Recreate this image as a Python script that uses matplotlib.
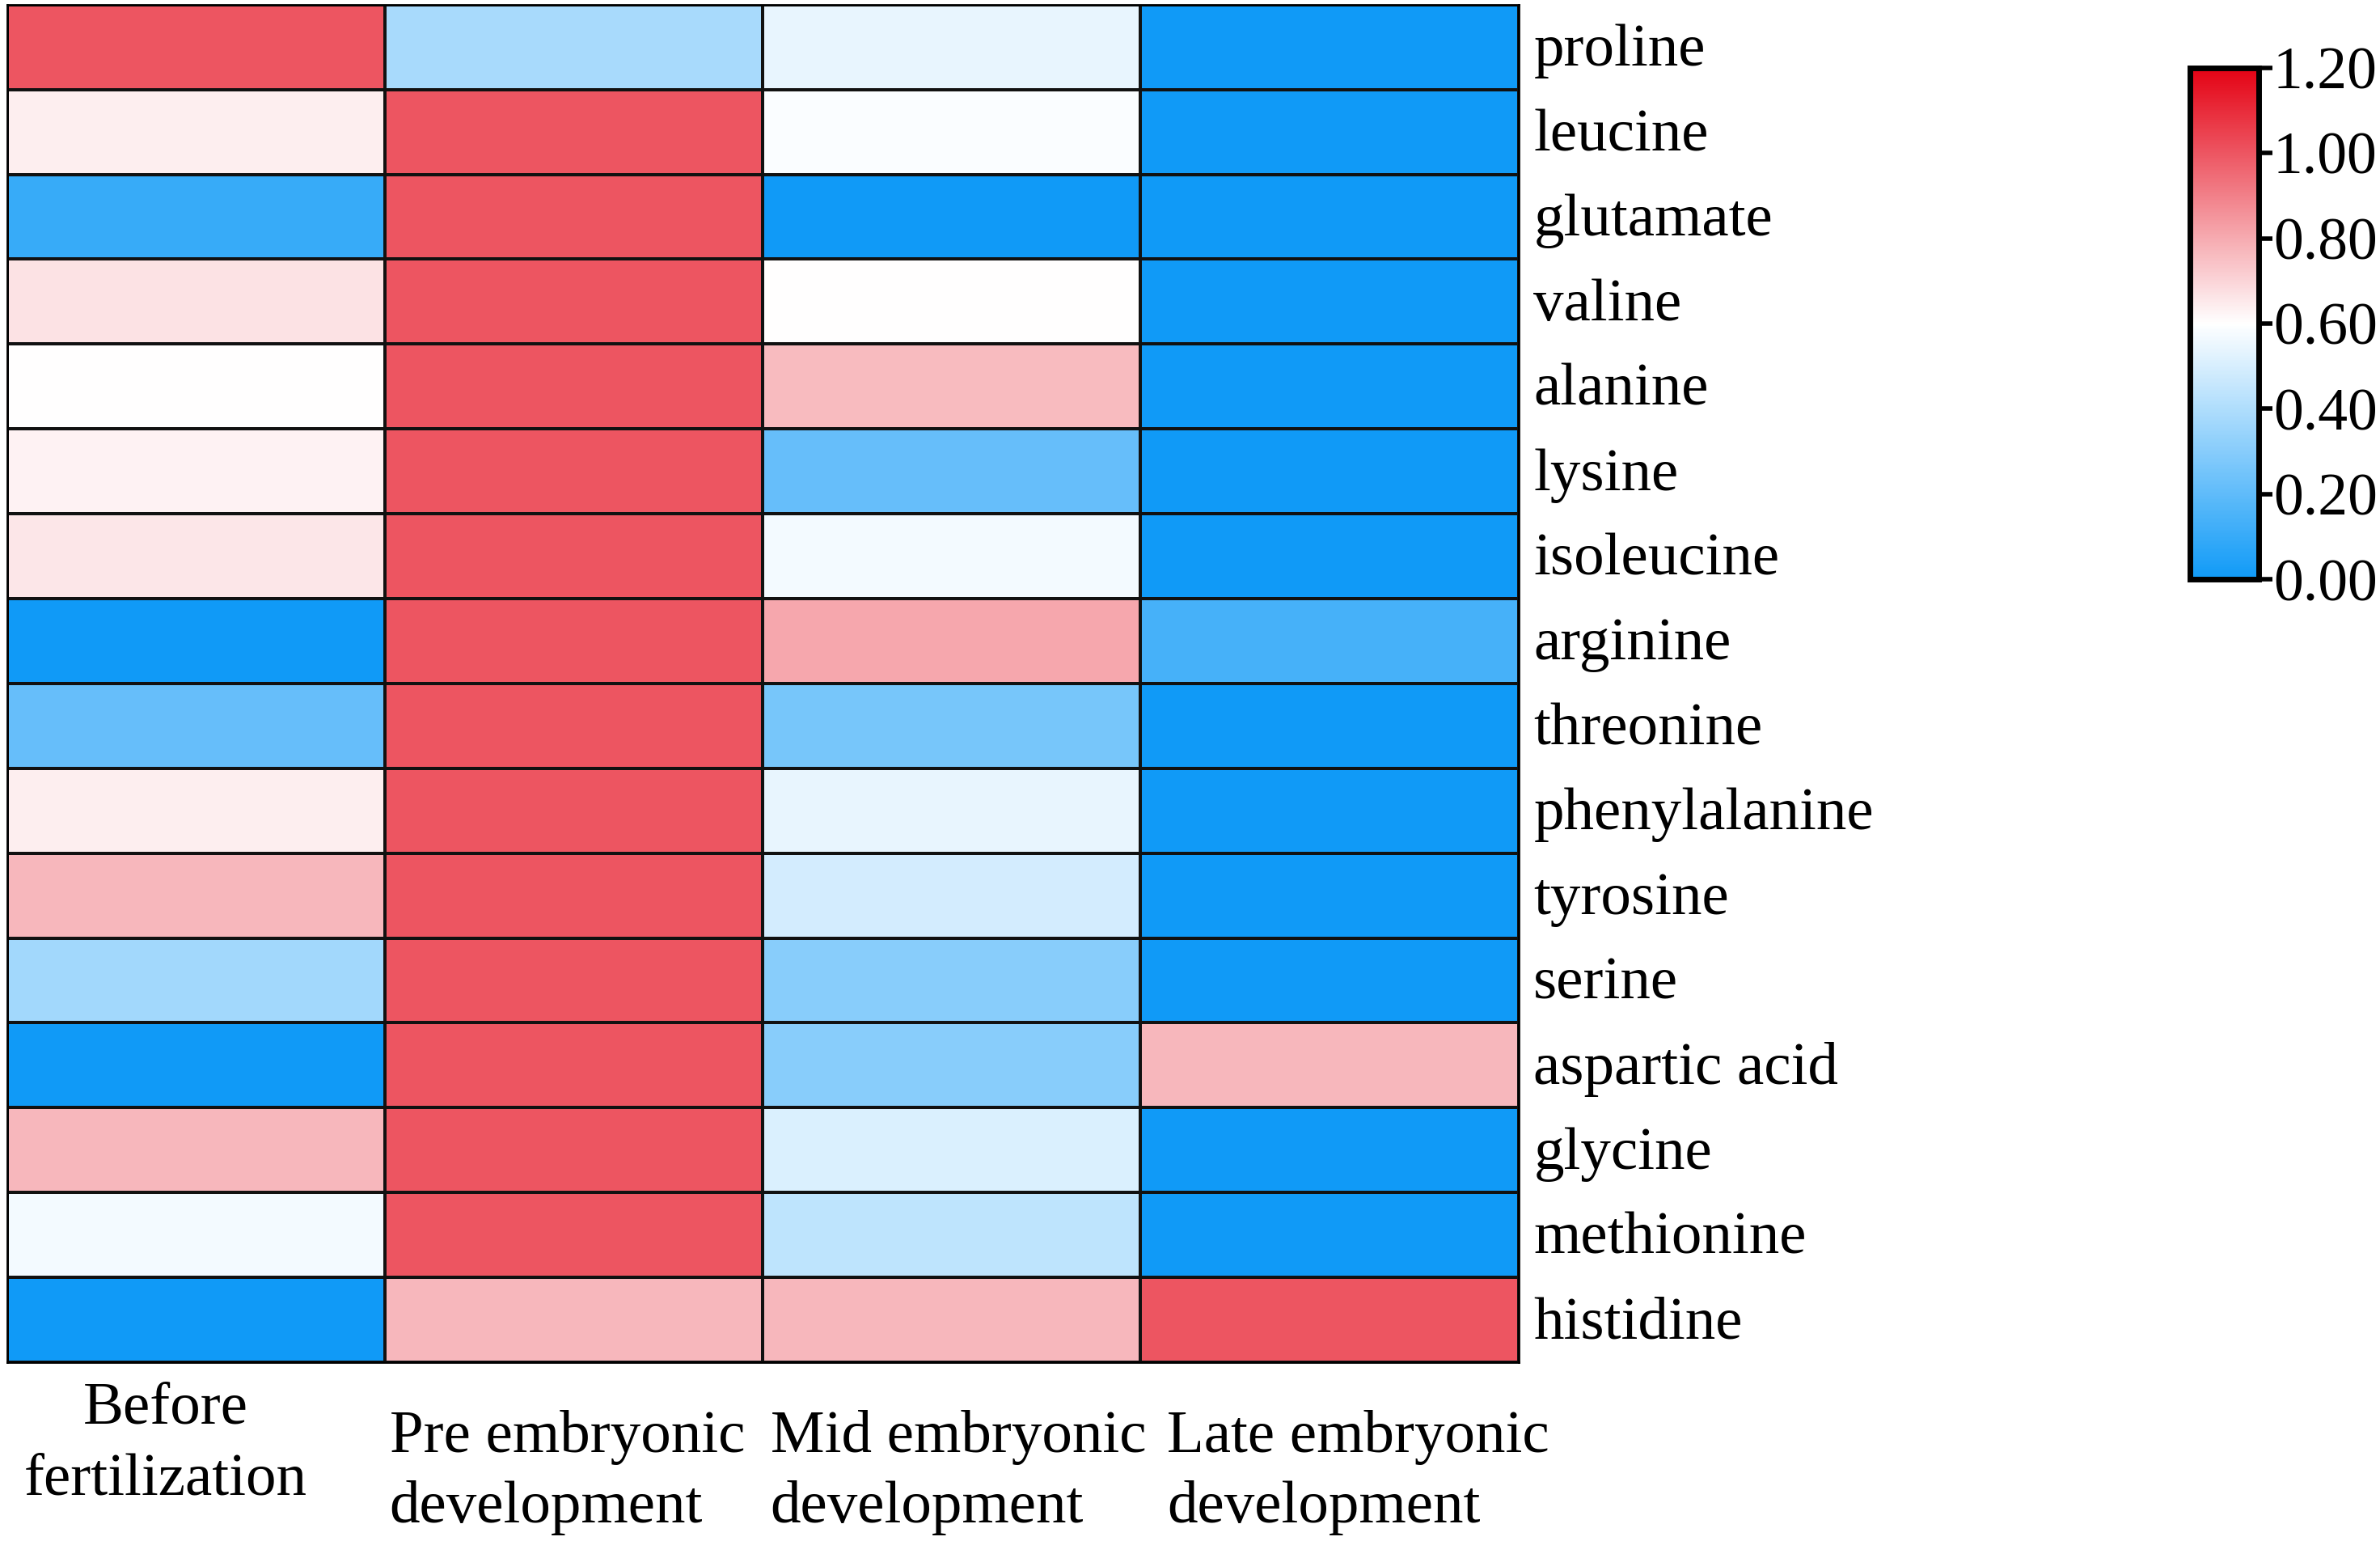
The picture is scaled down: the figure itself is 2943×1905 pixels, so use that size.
import numpy as np
import matplotlib
matplotlib.use("Agg")
import matplotlib.pyplot as plt
from matplotlib.colors import LinearSegmentedColormap

plt.rcParams["font.family"] = ["Liberation Serif", "DejaVu Serif"]

amino_acids = ["proline", "leucine", "glutamate", "valine", "alanine", "lysine",
               "isoleucine", "arginine", "threonine", "phenylalanine", "tyrosine",
               "serine", "aspartic acid", "glycine", "methionine", "histidine"]
stages = ["Before\nfertilization", "Pre embryonic\ndevelopment",
          "Mid embryonic\ndevelopment", "Late embryonic\ndevelopment"]

before = [1.00, 0.64, 0.10, 0.67, 0.60, 0.63, 0.66, 0.00,
          0.22, 0.64, 0.77, 0.37, 0.00, 0.77, 0.57, 0.00]
pre = [0.38, 1.00, 1.00, 1.00, 1.00, 1.00, 1.00, 1.00,
       1.00, 1.00, 1.00, 1.00, 1.00, 1.00, 1.00, 0.77]
mid = [0.54, 0.59, 0.00, 0.60, 0.76, 0.22, 0.57, 0.81,
       0.26, 0.54, 0.49, 0.30, 0.30, 0.51, 0.44, 0.77]
late = [0.00, 0.00, 0.00, 0.00, 0.00, 0.00, 0.00, 0.14,
        0.00, 0.00, 0.00, 0.00, 0.77, 0.00, 0.00, 1.00]

data = np.array([before, pre, mid, late]).T

cmap = LinearSegmentedColormap.from_list(
    "bwr_custom", [(0.0, "#109af7"), (0.5, "#ffffff"), (1.0, "#e40214")])

fig = plt.figure(figsize=(29.43, 19.05), dpi=100)
ax = fig.add_axes([0.003, 0.116, 0.635, 0.881])
mesh = ax.pcolormesh(data, cmap=cmap, vmin=0, vmax=1.2,
                     edgecolors="#111111", linewidth=1.5)
ax.set_xlim(0, len(stages))
ax.set_ylim(len(amino_acids), 0)
ax.set_xticks([])
ax.set_yticks([])
for s in ax.spines.values():
    s.set_linewidth(2)
    s.set_color("black")

# row labels on the right
for i, name in enumerate(amino_acids):
    ax.text(len(stages) + 0.04, i + 0.55, name, ha="left", va="center",
            fontsize=54)

# column labels below
ax.text(0.42, 16.97, stages[0], ha="center", va="center", fontsize=54,
        linespacing=1.38)
xpos = [None, 1.012, 2.02, 3.07]
for j in range(1, len(stages)):
    ax.text(xpos[j], 17.3, stages[j], ha="left", va="center", fontsize=54,
            multialignment="left", linespacing=1.38)

cax = fig.add_axes([0.920, 0.624, 0.029, 0.332])
cb = fig.colorbar(mesh, cax=cax, ticks=np.arange(0, 1.21, 0.2))
cb.ax.set_yticklabels([f"{t:.2f}" for t in np.arange(0, 1.21, 0.2)])
cb.ax.tick_params(labelsize=53, width=4, length=12, pad=1)
cb.outline.set_linewidth(5)

fig.savefig("out.png", dpi=100)
